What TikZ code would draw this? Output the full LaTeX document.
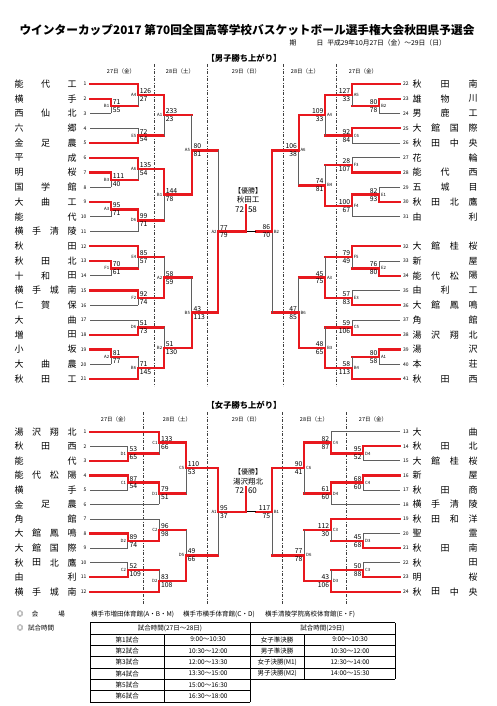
\documentclass[tikz,border=0pt]{standalone}
\usepackage{fontspec}
\setmainfont{Noto Sans CJK JP}
\definecolor{rd}{RGB}{232,24,30}
\definecolor{gl}{RGB}{95,95,95}
\tikzset{
  win/.style={draw=rd,line width=2.3pt,line cap=rect},
  lose/.style={draw=gl,line width=0.7pt},
  sc/.style={font=\fontsize{6.8}{7}\selectfont,inner sep=0pt},
  lb/.style={font=\fontsize{4.3}{5}\selectfont,inner sep=0pt},
  nm/.style={font=\fontsize{9}{9}\selectfont,inner sep=0pt},
  nb/.style={font=\fontsize{5}{5}\selectfont,inner sep=0pt},
  dy/.style={font=\fontsize{5.5}{6}\selectfont,inner sep=0pt},
  sepl/.style={draw=black!75,line width=0.5pt,dash pattern=on 3pt off 1.6pt on 0.8pt off 1.6pt},
  tb/.style={font=\fontsize{6.5}{7}\selectfont,inner sep=0pt},
  grid/.style={draw=black,line width=0.6pt},
}
\newcommand\nmchars[4]{%
  \foreach \c [count=\i] in {#4}{\xdef\nmN{\i}}%
  \foreach \c [count=\i] in {#4}{\node[nm] at ({#1+(\i-1)*(#2-#1)/(\nmN-1)},#3) {\c};}%
}
\newcommand\tmL[5]{%
  \draw[#4] (90,#2) -- (#3,#2);
  \node[nb,anchor=east] at (86.5,#2) {#1};
  \nmchars{19}{72}{#2}{#5}}
\newcommand\tmR[5]{%
  \draw[#4] (400,#2) -- (#3,#2);
  \node[nb,anchor=west] at (403,#2) {#1};
  \nmchars{417}{473}{#2}{#5}}
% game: vx, outx, ytop, ybot, ym, winner(t/b), s1, s2, label
\newcommand\gL[9]{%
  \ifx t#6
    \draw[lose] (#1,#5) -- (#1,#4);
    \draw[win] (#1,#3) -- (#1,#5);
  \else
    \draw[lose] (#1,#3) -- (#1,#5);
    \draw[win] (#1,#5) -- (#1,#4);
  \fi
  \draw[win] (#1,#5) -- (#2,#5);
  \node[sc,anchor=south west] at (#1+1.6,#5-1.3) {#7};
  \node[sc,anchor=north west] at (#1+1.6,#5+1.3) {#8};
  \node[lb,anchor=east] at (#1-1.6,#5) {#9};}
\newcommand\gR[9]{%
  \ifx t#6
    \draw[lose] (#1,#5) -- (#1,#4);
    \draw[win] (#1,#3) -- (#1,#5);
  \else
    \draw[lose] (#1,#3) -- (#1,#5);
    \draw[win] (#1,#5) -- (#1,#4);
  \fi
  \draw[win] (#1,#5) -- (#2,#5);
  \node[sc,anchor=south east] at (#1-1.6,#5-1.3) {#7};
  \node[sc,anchor=north east] at (#1-1.6,#5+1.3) {#8};
  \node[lb,anchor=west] at (#1+1.6,#5) {#9};}
\begin{document}
\begin{tikzpicture}[x=1pt,y=-1pt]
\fill[white] (0,0) rectangle (496,706);
\useasboundingbox (0,0) rectangle (496,706);
% ---------- header ----------
\node[font=\fontsize{11.7}{12}\selectfont\bfseries] (title) at (247,30) {ウインターカップ2017 第70回全国高等学校バスケットボール選手権大会秋田県予選会};
\node[font=\fontsize{6.8}{7}\selectfont,inner sep=0pt,anchor=west] (date) at (289.5,43) {期\hspace{20pt}日\hspace{4pt}平成29年10月27日（金）～29日（日）};
\node[font=\fontsize{8.3}{9}\selectfont\bfseries] (mhead) at (244,58) {【男子勝ち上がり】};
\node[dy] at (121,71.5) {27日（金）};
\node[dy] at (180,71.5) {28日（土）};
\node[dy] at (246,71.5) {29日（日）};
\node[dy] at (305,71.5) {28日（土）};
\node[dy] at (363,71.5) {27日（金）};
\foreach \x in {154,207.3,283,336} \draw[sepl] (\x,64) -- (\x,386);
% ---------- men left ----------
\tmL{1}{84}{138}{win}{能,代,工}
\tmL{2}{98.75}{111}{win}{横,手}
\tmL{3}{113.5}{111}{lose}{西,仙,北}
\tmL{4}{128.25}{138}{lose}{六,郷}
\tmL{5}{143}{138}{win}{金,足,農}
\tmL{6}{157.75}{138}{win}{平,成}
\tmL{7}{172.5}{111}{win}{明,桜}
\tmL{8}{187.25}{111}{lose}{国,学,館}
\tmL{9}{202}{111}{win}{大,曲,工}
\tmL{10}{216.75}{111}{lose}{能,代}
\tmL{11}{231.5}{138}{lose}{横,手,清,陵}
\tmL{12}{246.25}{138}{win}{秋,田}
\tmL{13}{261}{111}{win}{秋,田,北}
\tmL{14}{275.75}{111}{lose}{十,和,田}
\tmL{15}{290.5}{138}{win}{横,手,城,南}
\tmL{16}{305.25}{138}{lose}{仁,賀,保}
\tmL{17}{320}{138}{lose}{大,曲}
\tmL{18}{334.75}{138}{win}{増,田}
\tmL{19}{349.5}{111}{win}{小,坂}
\tmL{20}{364.25}{111}{lose}{大,曲,農}
\tmL{21}{379}{138}{win}{秋,田,工}
\gL{111}{138}{98.75}{113.5}{106.1}{t}{71}{55}{B1}
\gL{111}{138}{172.5}{187.25}{179.9}{t}{111}{40}{B3}
\gL{111}{138}{202}{216.75}{209.4}{t}{95}{71}{A3}
\gL{111}{138}{261}{275.75}{268.4}{t}{70}{61}{F1}
\gL{111}{138}{349.5}{364.25}{356.9}{t}{81}{77}{A2}
\gL{138}{164}{84}{106.1}{95}{t}{126}{27}{A4}
\gL{138}{164}{128.25}{143}{135.6}{b}{72}{54}{E5}
\gL{138}{164}{157.75}{179.9}{168.8}{t}{135}{54}{A6}
\gL{138}{164}{209.4}{231.5}{220.4}{t}{99}{71}{D6}
\gL{138}{164}{246.25}{268.4}{257.3}{t}{85}{57}{E4}
\gL{138}{164}{290.5}{305.25}{297.9}{t}{92}{74}{F2}
\gL{138}{164}{320}{334.75}{327.4}{b}{51}{73}{D6}
\gL{138}{164}{356.9}{379}{368}{b}{71}{145}{B6}
\gL{164}{191.7}{95}{135.6}{115.3}{t}{233}{23}{A1}
\gL{164}{191.7}{168.8}{220.4}{194.6}{t}{144}{78}{B1}
\gL{164}{191.7}{257.3}{297.9}{277.6}{b}{58}{59}{A2}
\gL{164}{191.7}{327.4}{368}{347.7}{b}{51}{130}{B2}
\gL{191.7}{218.3}{115.3}{194.6}{150.4}{b}{80}{81}{A5}
\gL{191.7}{218.3}{277.6}{347.7}{312.6}{b}{43}{113}{B5}
\gL{218.3}{246}{150.4}{312.6}{231.5}{b}{77}{79}{A2}
% ---------- men right ----------
\tmR{22}{84}{352}{win}{秋,田,南}
\tmR{23}{98.75}{379.3}{win}{雄,物,川}
\tmR{24}{113.5}{379.3}{lose}{男,鹿,工}
\tmR{25}{128.25}{352}{win}{大,館,国,際}
\tmR{26}{143}{352}{lose}{秋,田,中,央}
\tmR{27}{157.75}{352}{lose}{花,輪}
\tmR{28}{172.5}{352}{win}{能,代,西}
\tmR{29}{187.25}{379.3}{lose}{五,城,目}
\tmR{30}{202}{379.3}{win}{秋,田,北,鷹}
\tmR{31}{216.75}{352}{lose}{由,利}
\tmR{32}{246.25}{352}{win}{大,館,桂,桜}
\tmR{33}{261}{379.3}{lose}{新,屋}
\tmR{34}{275.75}{379.3}{win}{能,代,松,陽}
\tmR{35}{290.5}{352}{lose}{由,利,工}
\tmR{36}{305.25}{352}{win}{大,館,鳳,鳴}
\tmR{37}{320}{352}{lose}{角,館}
\tmR{38}{334.75}{352}{win}{湯,沢,翔,北}
\tmR{39}{349.5}{379.3}{win}{湯,沢}
\tmR{40}{364.25}{379.3}{lose}{本,荘}
\tmR{41}{379}{352}{win}{秋,田,西}
\gR{379.3}{352}{98.75}{113.5}{106.1}{t}{80}{78}{B2}
\gR{379.3}{352}{187.25}{202}{194.6}{b}{82}{93}{E1}
\gR{379.3}{352}{261}{275.75}{268.4}{b}{76}{80}{E2}
\gR{379.3}{352}{349.5}{364.25}{356.9}{t}{80}{58}{A1}
\gR{352}{325.3}{84}{106.1}{95}{t}{127}{33}{A5}
\gR{352}{325.3}{128.25}{143}{135.6}{t}{92}{84}{C6}
\gR{352}{325.3}{157.75}{172.5}{165.1}{b}{28}{107}{F3}
\gR{352}{325.3}{194.6}{216.75}{205.7}{t}{100}{67}{F4}
\gR{352}{325.3}{246.25}{268.4}{257.3}{t}{79}{49}{F5}
\gR{352}{325.3}{290.5}{305.25}{297.9}{b}{57}{83}{E3}
\gR{352}{325.3}{320}{334.75}{327.4}{b}{59}{106}{C5}
\gR{352}{325.3}{356.9}{379}{368}{b}{58}{113}{B4}
\gR{325.3}{298.7}{95}{135.6}{115.3}{t}{109}{33}{A4}
\gR{325.3}{298.7}{165.1}{205.7}{185.4}{b}{74}{81}{B4}
\gR{325.3}{298.7}{257.3}{297.9}{277.6}{b}{45}{75}{A3}
\gR{325.3}{298.7}{327.4}{368}{347.7}{b}{48}{65}{B3}
\gR{298.7}{272}{115.3}{185.4}{150.4}{t}{106}{38}{A6}
\gR{298.7}{272}{277.6}{347.7}{312.6}{b}{47}{85}{B6}
\gR{272}{256}{150.4}{312.6}{231.5}{t}{86}{70}{B2}
% men final
\coordinate (mfl) at (246,231.5);
\coordinate (mfr) at (256,231.5);
\draw[black,line width=0.7pt] (mfl) -- (mfr);
\draw[win] (246,205) -- (mfl);
\node[font=\fontsize{7}{7}\selectfont,inner sep=0pt] (mch1) at (248,190.5) {【優勝】};
\node[font=\fontsize{7.5}{8}\selectfont,inner sep=0pt] (mch2) at (248,200) {秋田工};
\node[font=\fontsize{8}{8}\selectfont,inner sep=0pt,anchor=east] (ms1) at (244.3,209.5) {72};
\node[font=\fontsize{8}{8}\selectfont,inner sep=0pt,anchor=west] (ms2) at (247.8,209.5) {58};
% ---------- women ----------
\node[font=\fontsize{8.3}{9}\selectfont\bfseries] (whead) at (244,405) {【女子勝ち上がり】};
\node[dy] at (115,419) {27日（金）};
\node[dy] at (177,419) {28日（土）};
\node[dy] at (246,419) {29日（日）};
\node[dy] at (314,419) {28日（土）};
\node[dy] at (373,419) {27日（金）};
\foreach \x in {143.3,207.3,282.7,346} \draw[sepl] (\x,412) -- (\x,604);
\tmL{1}{431.7}{159.3}{win}{湯,沢,翔,北}
\tmL{2}{446.25}{127.7}{lose}{秋,田,西}
\tmL{3}{460.8}{127.7}{win}{能,代}
\tmL{4}{475.35}{127.7}{win}{能,代,松,陽}
\tmL{5}{489.9}{127.7}{lose}{横,手}
\tmL{6}{504.45}{159.3}{lose}{金,足,農}
\tmL{7}{519}{159.3}{lose}{角,館}
\tmL{8}{533.55}{127.7}{win}{大,館,鳳,鳴}
\tmL{9}{548.1}{127.7}{lose}{大,館,国,際}
\tmL{10}{562.65}{127.7}{lose}{秋,田,北,鷹}
\tmL{11}{577.2}{127.7}{win}{由,利}
\tmL{12}{591.75}{159.3}{win}{横,手,城,南}
\gL{127.7}{159.3}{446.25}{460.8}{453.5}{b}{53}{65}{D1}
\gL{127.7}{159.3}{475.35}{489.9}{482.6}{t}{87}{54}{C1}
\gL{127.7}{159.3}{533.55}{548.1}{540.8}{t}{89}{74}{D2}
\gL{127.7}{159.3}{562.65}{577.2}{569.9}{b}{52}{109}{C2}
\gL{159.3}{186}{431.7}{453.5}{442.6}{t}{133}{66}{C1}
\gL{159.3}{186}{482.6}{504.45}{493.5}{t}{79}{51}{D1}
\gL{159.3}{186}{519}{540.8}{529.9}{b}{96}{98}{C2}
\gL{159.3}{186}{569.9}{591.75}{580.8}{b}{83}{108}{D2}
\gL{186}{218.3}{442.6}{493.5}{468}{t}{110}{53}{C5}
\gL{186}{218.3}{529.9}{580.8}{555.4}{b}{49}{66}{D5}
\gL{218.3}{246}{468}{555.4}{511.7}{t}{95}{37}{A1}
\tmR{13}{431.7}{331}{lose}{大,曲}
\tmR{14}{446.25}{363.3}{win}{秋,田,北}
\tmR{15}{460.8}{363.3}{lose}{大,館,桂,桜}
\tmR{16}{475.35}{363.3}{win}{新,屋}
\tmR{17}{489.9}{363.3}{lose}{秋,田,商}
\tmR{18}{504.45}{331}{lose}{横,手,清,陵}
\tmR{19}{519}{331}{win}{秋,田,和,洋}
\tmR{20}{533.55}{363.3}{lose}{聖,霊}
\tmR{21}{548.1}{363.3}{win}{秋,田,南}
\tmR{22}{562.65}{363.3}{lose}{秋,田}
\tmR{23}{577.2}{363.3}{win}{明,桜}
\tmR{24}{591.75}{331}{win}{秋,田,中,央}
\gR{363.3}{331}{446.25}{460.8}{453.5}{t}{95}{52}{D4}
\gR{363.3}{331}{475.35}{489.9}{482.6}{t}{68}{60}{C4}
\gR{363.3}{331}{533.55}{548.1}{540.8}{b}{45}{68}{D3}
\gR{363.3}{331}{562.65}{577.2}{569.9}{b}{50}{88}{C3}
\gR{331}{304.3}{431.7}{453.5}{442.6}{b}{82}{87}{C4}
\gR{331}{304.3}{482.6}{504.45}{493.5}{t}{61}{60}{D4}
\gR{331}{304.3}{519}{540.8}{529.9}{t}{112}{30}{C3}
\gR{331}{304.3}{569.9}{591.75}{580.8}{b}{43}{106}{D3}
\gR{304.3}{272}{442.6}{493.5}{468}{t}{90}{41}{C6}
\gR{304.3}{272}{529.9}{580.8}{555.4}{b}{77}{78}{D6}
\gR{272}{256}{468}{555.4}{511.7}{t}{117}{75}{B1}
\coordinate (wfl) at (246,511.7);
\coordinate (wfr) at (256,511.7);
\draw[black,line width=0.7pt] (wfl) -- (wfr);
\draw[win] (246,487) -- (wfl);
\node[font=\fontsize{7}{7}\selectfont,inner sep=0pt] (wch1) at (248,471.5) {【優勝】};
\node[font=\fontsize{7.5}{8}\selectfont,inner sep=0pt] (wch2) at (248,481.5) {湯沢翔北};
\node[font=\fontsize{8}{8}\selectfont,inner sep=0pt,anchor=east] (ws1) at (244.3,491) {72};
\node[font=\fontsize{8}{8}\selectfont,inner sep=0pt,anchor=west] (ws2) at (247.8,491) {60};
% ---------- venue & time table ----------
\node[tb] (m1) at (20,614) {◎};
\node[tb] (k1) at (35,614) {会};
\node[tb] (k2) at (61.5,614) {場};
\node[tb] (m2) at (20,628.3) {◎};
\node[tb,anchor=west] (k3) at (28,628.3) {試合時間};
\node[tb,anchor=west] (v1) at (91,614) {横手市増田体育館(A・B・M)};
\node[tb,anchor=west] (v2) at (183,614) {横手市横手体育館(C・D)};
\node[tb,anchor=west] (v3) at (265,614) {横手清陵学院高校体育館(E・F)};
\draw[grid] (90,622.7) -- (395,622.7);
\foreach \y in {634,645.3,656.6,667.9,679.2} \draw[grid] (90,\y) -- (395,\y);
\foreach \y in {690.5,701.8} \draw[grid] (90,\y) -- (250,\y);
\draw[grid] (90,622.7) -- (90,701.8);
\draw[grid] (250,622.7) -- (250,701.8);
\draw[grid] (164.3,634) -- (164.3,701.8);
\draw[grid] (304.3,634) -- (304.3,679.2);
\draw[grid] (395,622.7) -- (395,679.2);
\node[tb] (h1) at (170,628.35) {試合時間(27日～28日)};
\node[tb] (h2) at (322.5,628.35) {試合時間(29日)};
\foreach \a/\b [count=\k] in {第1試合/9:00～10:30,第2試合/10:30～12:00,第3試合/12:00～13:30,第4試合/13:30～15:00,第5試合/15:00～16:30,第6試合/16:30～18:00}
  {\node[tb] at (127.2,{628.35+\k*11.3}) {\a};
   \node[tb] at (208,{628.35+\k*11.3}) {\b};}
\foreach \a/\b [count=\k] in {女子準決勝/9:00～10:30,男子準決勝/10:30～12:00,女子決勝(M1)/12:30～14:00,男子決勝(M2)/14:00～15:30}
  {\node[tb] at (277.2,{628.35+\k*11.3}) {\a};
   \node[tb] at (350,{628.35+\k*11.3}) {\b};}
\end{tikzpicture}
\end{document}
